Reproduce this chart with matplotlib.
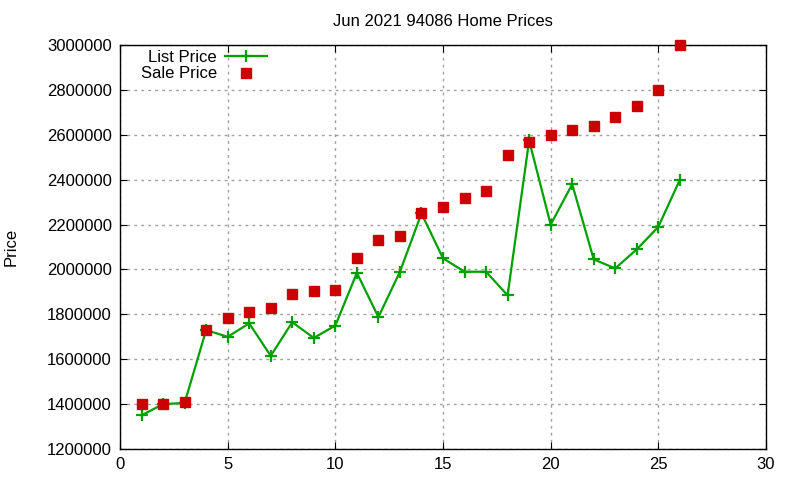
import numpy as np
import matplotlib.pyplot as plt

plt.rcParams['font.family'] = ['Liberation Sans', 'DejaVu Sans']

days = list(range(1, 27))
list_price = [1350000, 1400000, 1405000, 1730000, 1700000, 1760000, 1615000, 1765000,
              1695000, 1750000, 1985000, 1788000, 1990000, 2250000, 2050000, 1990000,
              1990000, 1885000, 2575000, 2200000, 2380000, 2045000, 2005000, 2090000,
              2190000, 2400000]
sale_price = [1400000, 1400000, 1410000, 1730000, 1785000, 1810000, 1830000, 1890000,
              1905000, 1910000, 2050000, 2130000, 2150000, 2250000, 2280000, 2320000,
              2350000, 2510000, 2570000, 2600000, 2620000, 2640000, 2680000, 2730000,
              2800000, 3000000]

fig = plt.figure(figsize=(8, 4.8), dpi=100)
ax = fig.add_axes([0.15, 0.0646, 0.8075, 0.8414])

ax.plot(days, list_price, color='#00a000', lw=1.6, marker='+', ms=8, mew=1.6,
        label='List Price', clip_on=False, zorder=3)
ax.plot(days, sale_price, ls='none', marker='s', ms=6.5, color='#cc0000',
        label='Sale Price', clip_on=False, zorder=4)

ax.set_xlim(0, 30)
ax.set_ylim(1200000, 3000000)
ax.set_xticks(np.arange(0, 31, 5))
ax.set_yticks(np.arange(1200000, 3000001, 200000))
ax.ticklabel_format(style='plain', useOffset=False)
ax.grid(True, color='#a0a0a0', linestyle=(0, (2, 3)), lw=1)
ax.tick_params(direction='in', top=True, right=True, labelsize=12, length=5, pad=6)
for s in ax.spines.values():
    s.set_linewidth(1)

ax.set_title('Jun 2021 94086 Home Prices', fontsize=12, pad=14)
ax.set_ylabel('Price', fontsize=12, labelpad=20)

ax.legend(loc='upper left', bbox_to_anchor=(0.0217, 1.005), frameon=False, markerfirst=False,
          fontsize=12, handlelength=2.5, borderaxespad=0.2, labelspacing=0.1,
          handletextpad=0.5, borderpad=0.2)

fig.savefig('out.png', dpi=100)
